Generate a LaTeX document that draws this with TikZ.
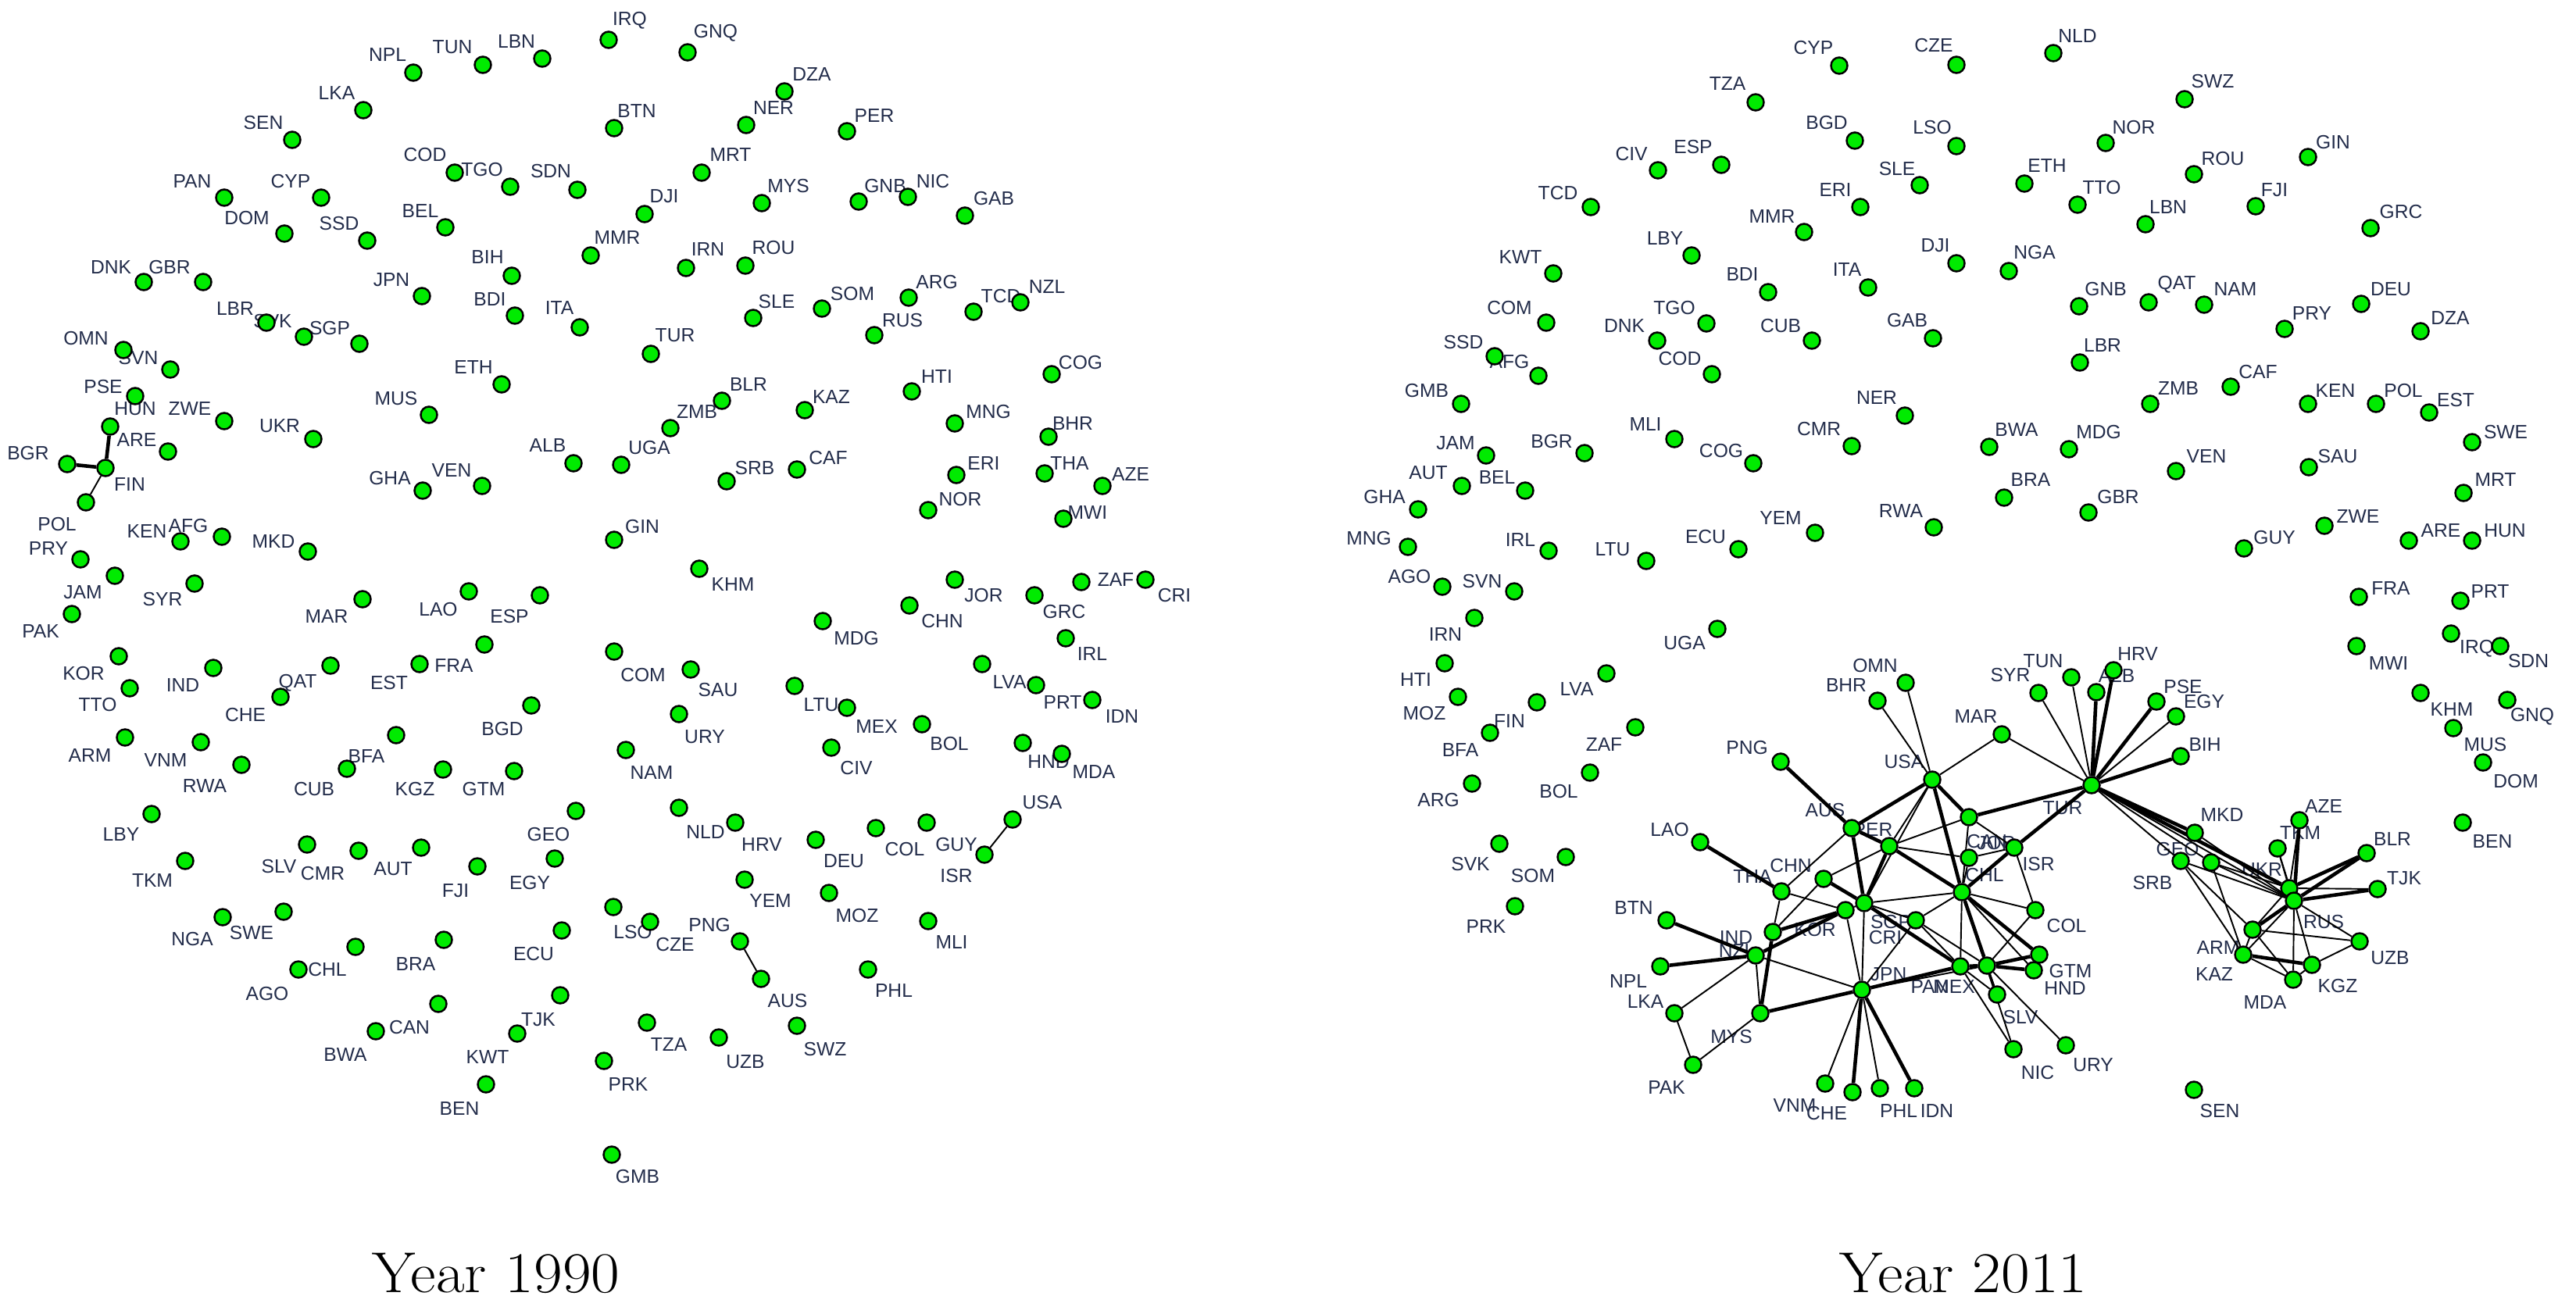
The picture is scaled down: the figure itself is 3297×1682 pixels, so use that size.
\documentclass[tikz,border=0pt]{standalone}
\usepackage{fontspec}
\newfontfamily\lblfont{Liberation Sans}
\definecolor{dotgreen}{RGB}{0,235,0}
\definecolor{namecol}{RGB}{35,45,75}
\pgfdeclarelayer{names}
\pgfdeclarelayer{links}
\pgfsetlayers{names,links,main}
% country / x / y / label x / label y
\newcommand\ctryold{NPL/529/93/496/70, TUN/618/83/579/60, LBN/694/75/661/53,
  LKA/465/141/431/119, SEN/374/179/337/157, COD/582/221/544/198, TGO/653/239/617/217,
  PAN/287/253/246/232, CYP/411/253/372/232, DOM/364/299/316/279, SSD/470/308/434/286,
  BEL/570/291/538/270, BIH/655/353/624/329, JPN/540/379/501/358, BDI/659/404/627/383,
  DNK/184/361/142/342, GBR/260/361/217/342, LBR/341/413/301/395, SVK/389/431/349/411,
  SGP/460/440/422/420, OMN/158/448/110/433, SVN/218/473/177/458, ETH/642/492/606/470,
  PSE/173/507/132/495, IRQ/779/51/806/26, GNQ/880/67/916/42, DZA/1004/117/1039/95,
  BTN/786/164/815/142, NER/955/160/990/138, PER/1084/168/1119/148, SDN/739/243/705/219,
  MRT/898/221/935/198, DJI/825/274/850/251, MYS/975/260/1009/238, GNB/1099/258/1133/238,
  NIC/1162/252/1194/232, GAB/1235/276/1272/254, MMR/756/327/790/304, IRN/878/343/906/319,
  ROU/954/340/990/317, ITA/742/419/716/394, SLE/964/407/994/386, SOM/1052/395/1091/376,
  ARG/1163/381/1199/361, RUS/1119/429/1155/410, TCD/1246/399/1281/379, NZL/1306/387/1340/367,
  TUR/833/453/864/429, COG/1346/479/1383/464, HTI/1167/501/1199/482, HUN/141/546/173/523,
  ZWE/287/539/243/523, UKR/401/562/358/545, MUS/549/531/507/510, ARE/215/578/175/563,
  BGR/86/594/36/580, FIN/135/599/166/620, POL/110/643/73/671, GHA/541/628/499/612,
  VEN/617/622/578/602, KEN/231/693/188/680, AFG/284/687/241/673, MKD/394/706/350/693,
  PRY/103/716/62/702, JAM/147/737/106/758, SYR/249/747/208/767, PAK/92/786/52/808,
  MAR/464/767/418/789, LAO/600/757/561/780, ESP/691/762/652/789, KOR/152/840/107/862,
  TTO/166/881/125/902, IND/273/855/234/877, QAT/423/852/381/874, CHE/359/892/314/915,
  FRA/537/850/581/852, EST/620/825/498/874, BGD/680/903/643/933, ARM/160/944/115/967,
  VNM/257/950/212/973, RWA/309/979/262/1006, BFA/507/941/469/968, CUB/444/984/402/1010,
  KGZ/567/985/531/1010, GTM/658/987/619/1010, LBY/194/1042/155/1068, TKM/237/1102/195/1127,
  SLV/393/1081/357/1109, CMR/459/1089/413/1118, AUT/539/1085/503/1112, FJI/611/1109/583/1140,
  EGY/710/1099/678/1130, NGA/285/1174/246/1202, SWE/363/1167/322/1194, AGO/382/1241/342/1272,
  CHL/455/1212/419/1241, BRA/568/1203/532/1234, ECU/719/1191/683/1221, CAN/561/1285/524/1315,
  BWA/481/1320/442/1350, TJK/717/1274/689/1305, KWT/662/1323/624/1353, BEN/622/1388/588/1419,
  GEO/737/1038/702/1068, NLD/869/1034/903/1065, HRV/941/1053/975/1081, DEU/1044/1075/1080/1102,
  COL/1121/1060/1158/1087, GUY/1186/1053/1224/1081, USA/1296/1049/1334/1027, ISR/1260/1094/1224/1121,
  YEM/953/1126/986/1153, MOZ/1061/1143/1097/1172, MLI/1188/1179/1218/1206, LSO/785/1161/810/1193,
  CZE/832/1180/864/1209, PNG/947/1205/908/1184, AUS/974/1253/1008/1281, PHL/1111/1241/1144/1268,
  TZA/828/1309/856/1337, UZB/920/1328/954/1359, SWZ/1020/1313/1056/1343, PRK/773/1358/804/1388,
  GMB/783/1478/816/1506, BLR/924/513/958/492, KAZ/1030/525/1064/508, MNG/1222/542/1265/527,
  BHR/1342/559/1373/542, ZMB/858/548/892/527, UGA/795/595/831/573, ALB/734/593/701/570,
  SRB/930/616/966/599, CAF/1020/601/1060/586, ERI/1224/608/1259/593, THA/1337/606/1369/593,
  NOR/1188/653/1229/639, MWI/1361/664/1392/656, GIN/786/691/822/674, KHM/895/728/938/748,
  JOR/1222/742/1259/762, CHN/1164/775/1206/795, MDG/1053/795/1096/817, GRC/1324/762/1362/783,
  COM/786/834/823/864, SAU/884/857/919/883, LTU/1017/878/1051/902, MEX/1084/906/1122/930,
  LVA/1257/850/1292/873, PRT/1326/877/1360/899, URY/869/914/902/943, BOL/1180/927/1215/952,
  NAM/801/960/834/989, CIV/1064/957/1096/983, HND/1309/951/1342/975, MDA/1359/965/1400/988,
  AZE/1411/622/1447/607, ZAF/1384/745/1428/742, CRI/1466/742/1503/762, IRL/1364/817/1398/837,
  IDN/1398/896/1436/917}
\newcommand\ctrynew{CYP/2354/84/2321/61, CZE/2504/83/2475/58, TZA/2247/131/2211/107,
  BGD/2374/180/2338/157, LSO/2504/187/2473/163, CIV/2122/218/2088/197, ESP/2203/211/2167/188,
  SLE/2457/237/2428/216, ERI/2381/265/2349/243, TCD/2036/265/1994/247, MMR/2309/297/2268/277,
  DJI/2504/337/2477/314, LBY/2165/327/2131/305, KWT/1988/350/1946/329, BDI/2263/374/2230/351,
  ITA/2391/368/2364/345, COM/1979/413/1932/394, TGO/2184/414/2143/394, DNK/2121/436/2079/417,
  CUB/2319/436/2279/417, GAB/2474/433/2441/410, SSD/1913/456/1873/438, AFG/1969/481/1932/463,
  COD/2191/479/2150/459, NLD/2628/68/2659/46, SWZ/2796/127/2832/104, NOR/2695/183/2731/163,
  GIN/2954/201/2986/182, ETH/2591/235/2620/212, ROU/2808/223/2845/203, TTO/2659/262/2690/240,
  FJI/2887/264/2911/243, LBN/2746/287/2775/265, GRC/3034/292/3073/271, NGA/2571/347/2604/323,
  GNB/2661/392/2695/370, QAT/2750/387/2786/364, NAM/2821/390/2861/370, DEU/3022/389/3060/370,
  PRY/2924/421/2959/401, DZA/3098/424/3136/407, LBR/2662/464/2691/442, GMB/1870/517/1826/500,
  NER/2438/532/2402/509, MLI/2143/562/2106/543, CMR/2370/571/2328/549, JAM/1902/583/1863/567,
  BGR/2028/580/1986/565, COG/2244/593/2203/577, AUT/1871/622/1828/605, BEL/1952/628/1916/611,
  GHA/1815/652/1772/636, YEM/2323/682/2279/663, RWA/2475/675/2433/654, MNG/1802/700/1752/689,
  IRL/1982/705/1946/691, LTU/2107/718/2064/703, ECU/2225/703/2183/687, AGO/1846/751/1804/738,
  SVN/1938/757/1897/744, IRN/1887/791/1850/812, UGA/2198/805/2156/823, HTI/1849/849/1812/870,
  OMN/2439/874/2400/852, BHR/2403/897/2363/877, LVA/2056/862/2018/882, MOZ/1866/892/1823/913,
  FIN/1967/899/1932/923, BFA/1907/938/1869/960, ZAF/2093/931/2053/953, PNG/2279/975/2236/957,
  CAF/2855/495/2890/476, ZMB/2752/517/2788/497, KEN/2954/517/2989/500, POL/3041/517/3076/500,
  EST/3109/528/3143/512, BWA/2546/572/2581/550, MDG/2648/575/2686/553, SWE/3164/566/3207/553,
  VEN/2785/603/2824/584, SAU/2955/598/2992/584, BRA/2565/637/2599/614, MRT/3153/631/3194/614,
  GBR/2673/656/2711/636, ZWE/2975/673/3018/661, GUY/2872/702/2911/688, ARE/3083/692/3124/679,
  HUN/3164/692/3206/679, FRA/3019/764/3060/753, PRT/3149/769/3187/757, MWI/3016/827/3057/849,
  IRQ/3137/811/3170/830, SDN/3200/827/3236/846, KHM/3098/887/3138/908, GNQ/3209/896/3241/917,
  MUS/3140/932/3181/953, MAR/2562/940/2529/917, SYR/2609/887/2573/864, TUN/2651/867/2615/846,
  ALB/2683/886/2709/865, HRV/2705/858/2736/837, PSE/2760/898/2794/879, EGY/2785/917/2821/898,
  BIH/2791/968/2822/953, ARG/1884/1003/1841/1024, BOL/2035/989/1995/1013, USA/2473/998/2437/975,
  AUS/2370/1060/2336/1037, PER/2418/1083/2397/1062, SVK/1919/1080/1882/1106, SOM/2004/1097/1962/1121,
  PRK/1939/1160/1902/1186, LAO/2176/1078/2137/1062, CHN/2334/1125/2292/1108, THA/2280/1141/2243/1122,
  BTN/2133/1178/2091/1162, NPL/2125/1237/2084/1256, LKA/2143/1297/2106/1282, MYS/2253/1297/2216/1327,
  PAK/2167/1363/2133/1392, VNM/2336/1387/2297/1415, CHE/2371/1398/2338/1425, PHL/2406/1393/2430/1422,
  IDN/2450/1393/2479/1422, JPN/2383/1267/2417/1247, TUR/2677/1005/2640/1034, DOM/3178/976/3220/1000,
  BEN/3152/1053/3190/1077, MKD/2809/1066/2844/1043, AZE/2943/1050/2974/1032, TKM/2915/1086/2944/1066,
  SRB/2791/1102/2755/1130, GEO/2830/1104/2787/1087, UKR/2930/1137/2895/1113, BLR/3029/1092/3062/1074,
  TJK/3043/1138/3077/1124, RUS/2936/1153/2974/1180, ARM/2883/1190/2839/1213, KAZ/2871/1222/2834/1247,
  UZB/3020/1205/3059/1226, KGZ/2959/1235/2992/1262, MDA/2935/1254/2899/1283, ISR/2578/1085/2609/1106,
  COL/2605/1165/2645/1185, GTM/2610/1222/2650/1243, HND/2603/1242/2643/1265, SLV/2556/1273/2586/1302,
  NIC/2577/1343/2608/1373, URY/2644/1338/2679/1363, SEN/2808/1395/2841/1422, SGP/2452/1178/2420/1180,
  CRI/2386/1156/2413/1200, MEX/2509/1237/2501/1263, PAN/2543/1236/2470/1263, IND/2247/1223/2222/1200,
  KOR/2362/1165/2323/1190, NZL/2269/1193/2223/1217, CAN/2520/1046/2543/1077, JOR/2520/1098/2555/1079,
  CHL/2511/1142/2540/1120}
\begin{document}
\begin{tikzpicture}[x=0.01cm,y=-0.01cm,
  dot/.style={circle,draw=black,fill=dotgreen,line width=0.7pt,inner sep=0pt,minimum size=0.21cm},
  cname/.style={font=\lblfont\fontsize{7}{8}\selectfont,text=namecol,inner sep=0pt},
  tie/.style={line width=0.55pt},
  thk/.style={line width=1.3pt},
  year/.style={font=\fontsize{21}{25}\selectfont}]
\useasboundingbox (0,0) rectangle (3297,1682);

% 1990
\foreach \iso/\x/\y/\lx/\ly in \ctryold
  \node[dot] (a\iso) at (\x,\y) {};
\begin{pgfonlayer}{names}
\foreach \iso/\x/\y/\lx/\ly in \ctryold
  \node[cname] (a\iso-t) at (\lx,\ly) {\iso};
\end{pgfonlayer}
\begin{pgfonlayer}{links}
\draw[thk] (aFIN) -- (aHUN) (aFIN) -- (aBGR);
\draw[tie] (aFIN) -- (aPOL) (aUSA) -- (aISR) (aPNG) -- (aAUS);
\end{pgfonlayer}

% 2011
\foreach \iso/\x/\y/\lx/\ly in \ctrynew
  \node[dot] (b\iso) at (\x,\y) {};
\begin{pgfonlayer}{names}
\foreach \iso/\x/\y/\lx/\ly in \ctrynew
  \node[cname] (b\iso-t) at (\lx,\ly) {\iso};
\end{pgfonlayer}
\begin{pgfonlayer}{links}
\foreach \p/\q in {TUR/ALB, TUR/HRV, TUR/PSE, TUR/BIH, TUR/CAN, TUR/ISR, TUR/MKD, TUR/UKR,
  USA/AUS, USA/CHL, USA/CAN, PNG/AUS, AUS/CRI, AUS/PER, PER/CHL, PER/CRI, CHN/CRI, LAO/THA,
  BTN/IND, NPL/IND, IND/KOR, NZL/KOR, NZL/MYS, MYS/JPN, JPN/CHE, JPN/IDN, JPN/MEX, CRI/MEX,
  ISR/CHL, CHL/GTM, CHL/PAN, PAN/GTM, PAN/HND, MEX/PAN, RUS/AZE, RUS/BLR, RUS/TJK, RUS/ARM,
  UKR/BLR, KAZ/KGZ}
  \draw[thk] (b\p) -- (b\q);
\foreach \p/\q in {TUR/SYR, TUR/TUN, TUR/EGY, TUR/SRB, TUR/GEO, TUR/RUS, TUR/MAR,
  MAR/USA, USA/OMN, USA/BHR, USA/PER, USA/CRI, AUS/THA, CHN/NZL, CHN/PER, PER/JOR, CAN/PER,
  CAN/ISR, CAN/CHL, THA/NZL, THA/KOR, LKA/IND, LKA/PAK, PAK/MYS, MYS/IND, IND/JPN, KOR/CRI,
  KOR/JPN, JPN/VNM, JPN/PHL, JPN/CRI, JPN/SGP, JPN/PAN, CRI/CHL, CRI/SGP, SGP/MEX, SGP/CHL,
  SGP/PAN, ISR/JOR, ISR/COL, JOR/CHL, CHL/COL, CHL/HND, CHL/MEX, CHL/SLV, CHL/NIC, PAN/SLV,
  PAN/URY, PAN/COL, MEX/NIC, MEX/SLV, MKD/RUS, GEO/RUS, GEO/UKR, SRB/RUS, SRB/ARM, UKR/TKM,
  UKR/AZE, UKR/RUS, RUS/TKM, RUS/UZB, RUS/KGZ, RUS/MDA, RUS/KAZ, UKR/TJK, UKR/ARM, ARM/KAZ,
  KGZ/UZB, KGZ/MDA, ARM/MDA, GEO/KAZ, SRB/KAZ, ARM/UZB, KAZ/MDA}
  \draw[tie] (b\p) -- (b\q);
\end{pgfonlayer}

\node[year] (y1990) at (635,1630) {\scalebox{1.08}[1]{Year 1990}};
\node[year] (y2011) at (2513,1630) {\scalebox{1.08}[1]{Year 2011}};
\end{tikzpicture}
\end{document}
